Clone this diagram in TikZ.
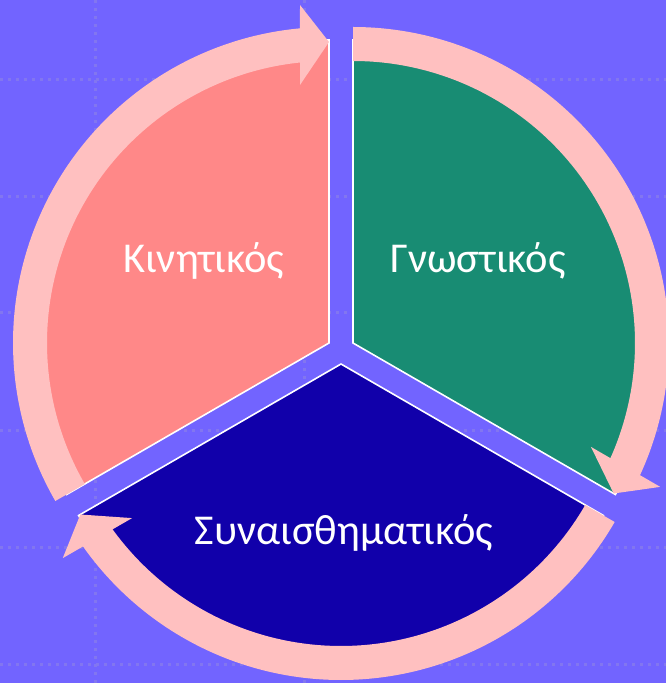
\documentclass[tikz,border=0pt]{standalone}
\usepackage{fontspec}
\setmainfont{Carlito}
\usetikzlibrary{calc}
\definecolor{SlideBlue}{RGB}{114,100,255}
\definecolor{GridDot}{RGB}{130,118,240}
\definecolor{KinSalmon}{RGB}{255,136,136}
\definecolor{GnoTeal}{RGB}{24,140,115}
\definecolor{SynNavy}{RGB}{17,0,170}
\definecolor{RingPink}{RGB}{255,192,192}

\begin{document}
\begin{tikzpicture}[x=1pt, y=1pt,
  sector/.style={draw=white, line width=1.6pt, line join=miter},
  segtext/.style={text=white, anchor=base, font=\fontsize{42.5}{50}\selectfont},
  griddots/.style={GridDot, line width=3pt, dash pattern=on 3pt off 5pt},
  ringarrow/.pic={
    \fill[RingPink] (210:316) arc[start angle=210, end angle=95.27, radius=316]
      -- (-29,338) -- (0,301) -- (-29,258) -- (95.9:282)
      arc[start angle=95.9, end angle=210, radius=282] -- cycle;
  }]
  \useasboundingbox (0,0) rectangle (666,683);
  \fill[SlideBlue] (0,0) rectangle (666,683);
  \draw[griddots] (0,603) -- (666,603) (0,486) -- (666,486) (0,370) -- (666,370)
    (0,252) -- (666,252) (0,135) -- (666,135) (0,18) -- (666,18)
    (95,683) -- (95,0) (304,683) -- (304,0);

  \coordinate (kc) at (329,340);
  \coordinate (gc) at (353,340);
  \coordinate (sc) at (341,319);

  \filldraw[sector, fill=KinSalmon] (kc) -- ++(90:303) arc[start angle=90, end angle=210, radius=303] -- cycle;
  \filldraw[sector, fill=GnoTeal] (gc) -- ++(90:303) arc[start angle=90, end angle=-30, radius=303] -- cycle;
  \filldraw[sector, fill=SynNavy] (sc) -- ++(210:303) arc[start angle=210, end angle=330, radius=303] -- cycle;

  \pic at (kc) {ringarrow};
  \pic[rotate=-120] at (gc) {ringarrow};
  \pic[rotate=-240] at (sc) {ringarrow};

  \node[segtext] (kin) at (204,410) {Κινητικός};
  \node[segtext] (gno) at (478,410) {Γνωστικός};
  \node[segtext] (syn) at (344,138) {Συναισθηματικός};
\end{tikzpicture}
\end{document}
